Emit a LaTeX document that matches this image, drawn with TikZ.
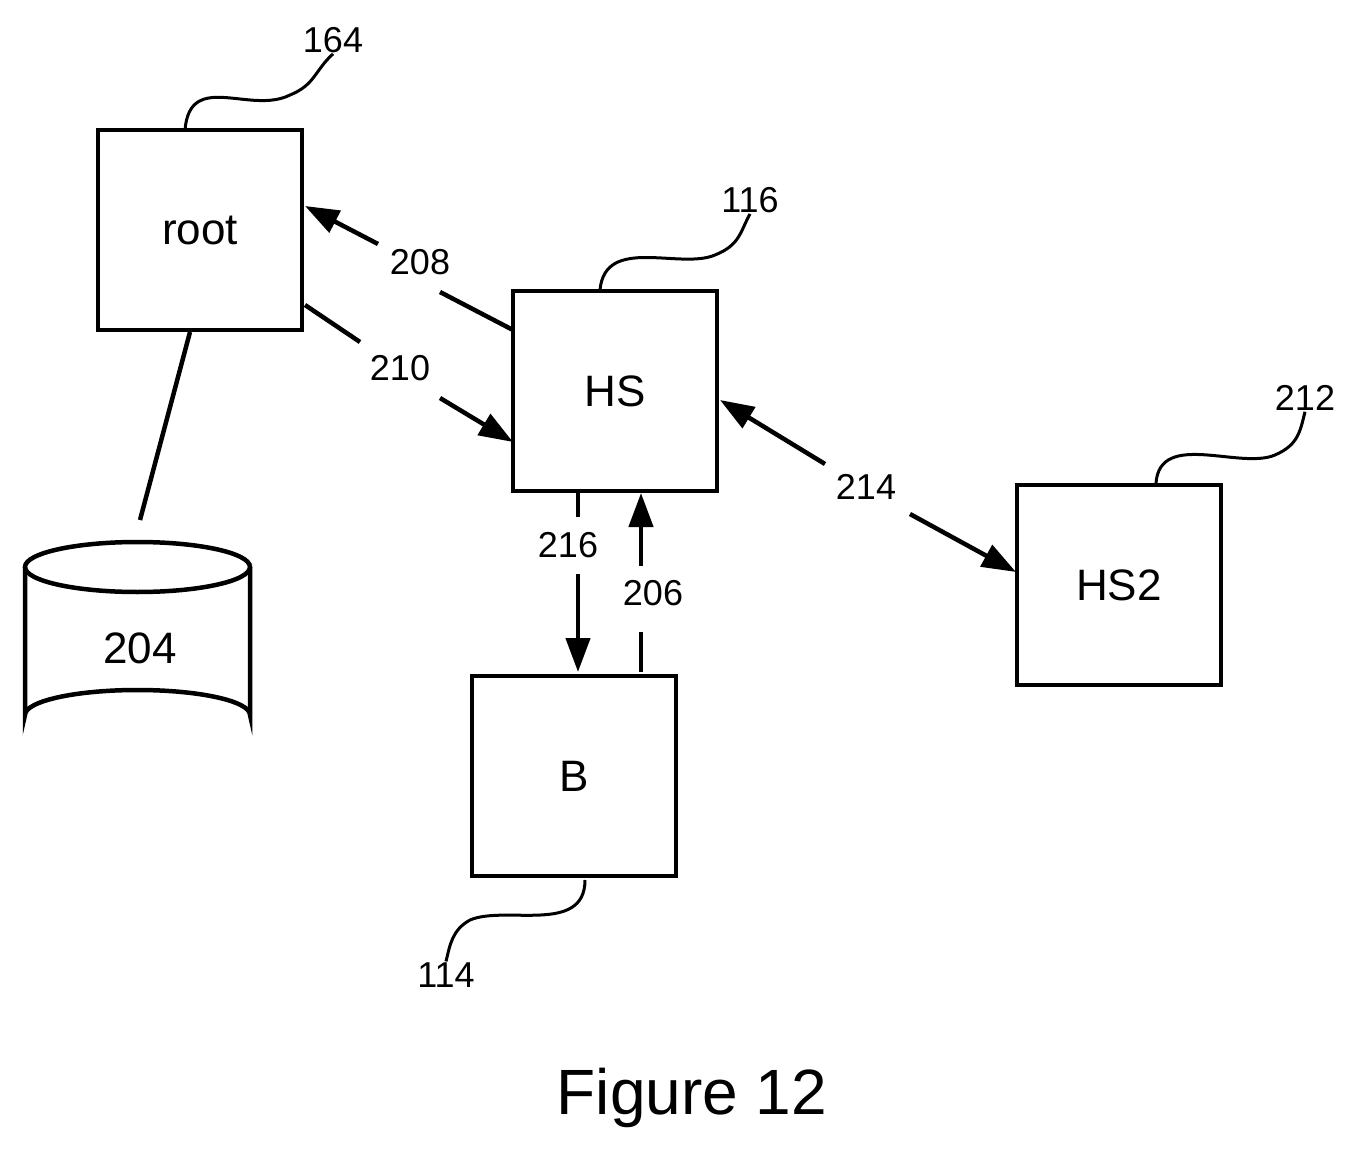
\documentclass[tikz,border=0pt]{standalone}
\usepackage{fontspec}
\setmainfont{Liberation Sans}
\usetikzlibrary{arrows.meta}
\begin{document}
\begin{tikzpicture}[x=1pt,y=-1pt,
 box/.style={draw,line width=4.5pt,minimum width=204pt,minimum height=200pt,inner sep=0pt,font=\fontsize{44}{50}\selectfont},
 lab/.style={font=\fontsize{36}{40}\selectfont,inner sep=1pt},
 ln/.style={line width=4.5pt},
 ar/.style={line width=4.5pt,-{Triangle[length=34pt,width=24pt]}},
 lead/.style={line width=3pt}]
\useasboundingbox (0,0) rectangle (1358,1169);
\node[box] (root) at (200,230) {root};
\node[box] (hs) at (615,391) {HS};
\node[box] (hs2) at (1119,585) {HS2};
\node[box] (b) at (574,776) {B};
% cylinder
\draw[line width=4.5pt] (25,567) -- (25,715) arc[start angle=180,end angle=360,x radius=112.5,y radius=25] -- (250,567);
\draw[line width=4.5pt] (137.5,567) ellipse[x radius=112.5,y radius=25];
\node[font=\fontsize{44}{50}\selectfont] (db) at (140,648) {204};
\coordinate (dbtop) at (140,520);
\draw[ln] (190,332) -- (dbtop);
% labels
\node[lab] (l208) at (420,262) {208};
\node[lab] (l210) at (400,368) {210};
\node[lab] (l214) at (866,487) {214};
\node[lab] (l216) at (568,545) {216};
\node[lab] (l206) at (653,593) {206};
\node[lab] (l164) at (333,40) {164};
\node[lab] (l116) at (750,200) {116};
\node[lab] (l212) at (1305,398) {212};
\node[lab] (l114) at (446,975) {114};
\node[font=\fontsize{64}{70}\selectfont] (fig) at (692,1098) {Figure 12};
% coords
\coordinate (a1) at (513,330); \coordinate (a2) at (440,292);
\coordinate (a3) at (378,244); \coordinate (a4) at (305,206);
\draw[ln] (a1) -- (a2);
\draw[ar] (a3) -- (a4);
\coordinate (b1) at (305,305); \coordinate (b2) at (360,342);
\coordinate (b3) at (440,398); \coordinate (b4) at (513,442);
\draw[ln] (b1) -- (b2);
\draw[ar] (b3) -- (b4);
\coordinate (c1) at (825,464); \coordinate (c2) at (720,400);
\coordinate (c3) at (910,514); \coordinate (c4) at (1016,572);
\draw[ar] (c1) -- (c2);
\draw[ar] (c3) -- (c4);
\coordinate (d1) at (578,493); \coordinate (d2) at (578,517);
\coordinate (d3) at (578,574); \coordinate (d4) at (578,672);
\draw[ln] (d1) -- (d2);
\draw[ar] (d3) -- (d4);
\coordinate (e1) at (641,672); \coordinate (e2) at (641,632);
\coordinate (e3) at (641,566); \coordinate (e4) at (641,493);
\draw[ln] (e1) -- (e2);
\draw[ar] (e3) -- (e4);
% leaders
\draw[lead] (185,130) .. controls (190,70) and (250,115) .. (290,95) .. controls (315,85) and (315,70) .. (l164.south);
\draw[lead] (600,290) .. controls (605,235) and (680,270) .. (715,255) .. controls (740,245) and (740,232) .. (l116.south);
\draw[lead] (1156,483) .. controls (1160,430) and (1240,470) .. (1275,455) .. controls (1298,445) and (1300,432) .. (l212.south);
\draw[lead] (585,880) .. controls (585,935) and (505,905) .. (470,920) .. controls (452,930) and (450,945) .. (l114.north);
\end{tikzpicture}
\end{document}
